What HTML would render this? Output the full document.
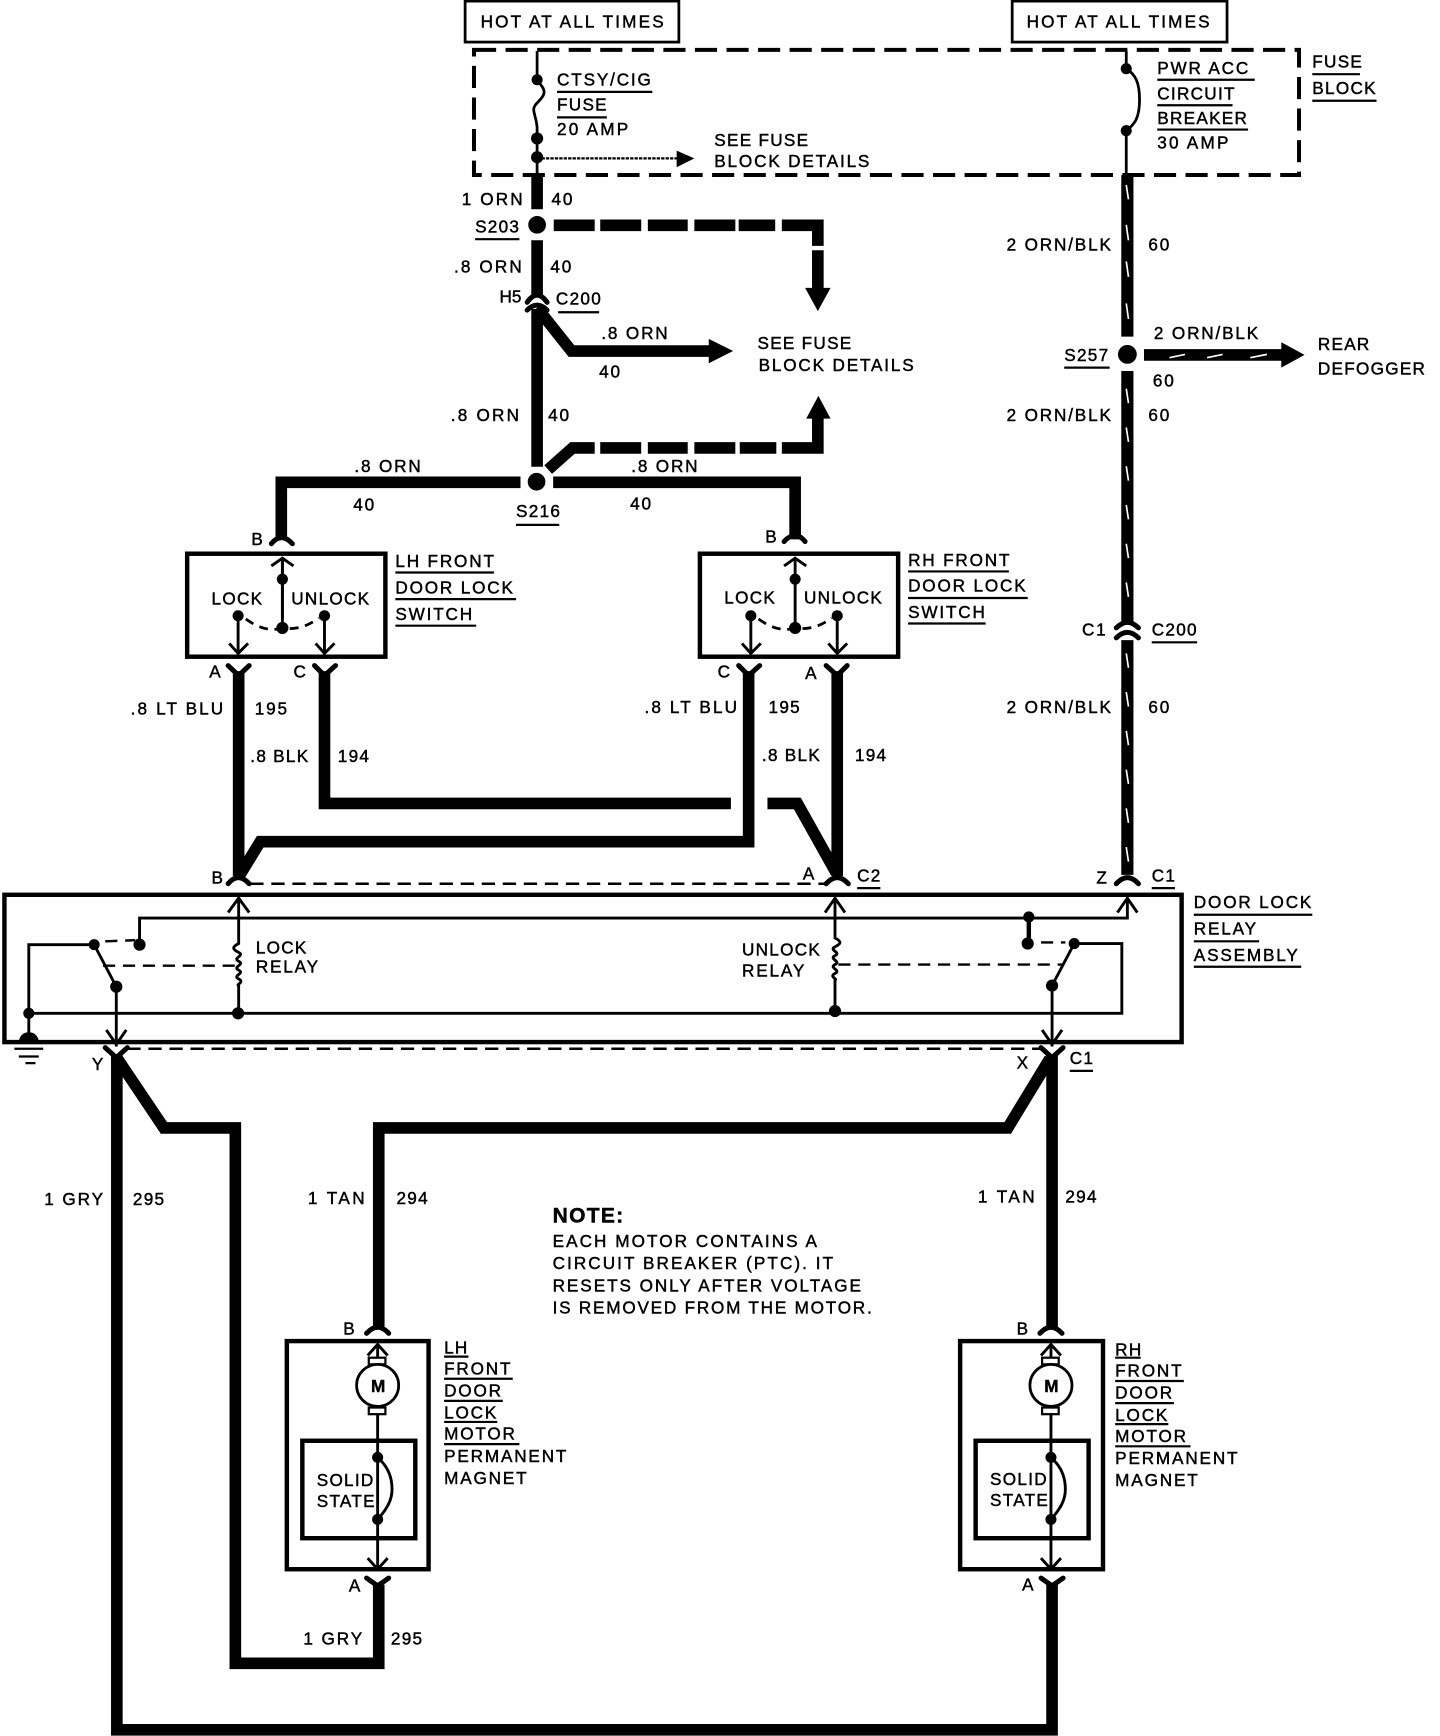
<!DOCTYPE html>
<html><head><meta charset="utf-8"><title>Door Lock Wiring Diagram</title>
<style>
html,body{margin:0;padding:0;background:#fff}
svg{display:block}
text{font-family:"Liberation Sans",Arial,sans-serif;font-size:15.5px;letter-spacing:1.65px;fill:#000;stroke:#000;stroke-width:.4px}
text.n{letter-spacing:1.15px}
.w{fill:none;stroke:#000;stroke-width:10.5;stroke-linejoin:miter}
.t{fill:none;stroke:#000;stroke-width:2.5}
.b{fill:none;stroke:#000;stroke-width:4}
.u{stroke:#000;stroke-width:2}
.f{fill:none;stroke:#000;stroke-width:4.5;stroke-linecap:round;stroke-linejoin:round}
.i{fill:none;stroke:#000;stroke-width:2.6}
.d{fill:none;stroke:#000;stroke-width:2.2;stroke-dasharray:12 7}
.s{fill:none;stroke:#fff;stroke-width:1.5}
</style></head><body>
<svg width="1440" height="1736" viewBox="0 0 1300.3 1567.6" xmlns="http://www.w3.org/2000/svg">
<rect width="1301" height="1568" fill="#fff"/>
<!-- top boxes -->
<rect x="420" y="1" width="193" height="37" class="t"/>
<rect x="914" y="1" width="194" height="37" class="t"/>
<rect x="428" y="45" width="745" height="113" fill="none" stroke="#000" stroke-width="3.6" stroke-dasharray="20 8.500"/>
<!-- left fuse -->
<path class="t" d="M485 46V70c0 5 8 9 6 15-2 6-10 9-9 15 1 6 3 10 3 16V158" stroke-width="3"/>
<circle cx="485" cy="72" r="5"/><circle cx="485" cy="125" r="5.5"/><circle cx="485" cy="142" r="5.5"/>
<path d="M485 143H612" fill="none" stroke="#000" stroke-width="2" stroke-dasharray="3 1"/>
<path d="M611 136L627 143L611 151Z"/>
<path class="w" d="M485 158V189M485 217V268"/>
<circle cx="485" cy="203" r="8"/>
<path class="w" d="M500 203.500H537M542 203.500H579M585 203.500H621M627 203.500H664M667 203.500H700M706 203.500H738.500V222M738.500 226V262"/>
<path d="M727 260H750L738.500 281Z"/>
<!-- C200 left -->
<path class="f" d="M476 273Q485 260 494 273"/>
<path class="f" d="M476 280Q485 271 494 280" stroke-width="5"/>
<path class="w" d="M485 279V421.500"/>
<path class="w" d="M485 278L516 317H642"/>
<path d="M640 306L662 317L640 328Z"/>
<path class="w" d="M495 424L517 404.500H537M542 404.500H579M585 404.500H621M627 404.500H664M668 404.500H701M706 404.500H738.500V376"/>
<path d="M728 378H750L739 357.500Z"/>
<circle cx="484.500" cy="435" r="8"/>
<path class="w" d="M470 435.500H254V487"/>
<path class="w" d="M499.500 435.500H718V487"/>
<!-- right breaker wire -->
<path class="t" d="M1017 46V62c8 5 12 12 12 28s-4 22-12 28V158" stroke-width="3"/>
<circle cx="1017" cy="62" r="5"/><circle cx="1017" cy="118" r="5"/>
<path class="w" d="M1018 158V304M1018 335V562M1018 578V790" style="stroke-width:11"/>
<path class="s" d="M1017 167l2 13M1017 203l2 14M1017 236l2 14M1017 274l2 14M1017 351l2 13M1017 386l2 13M1017 421l2 13M1017 456l2 13M1017 491l2 13M1017 526l2 13M1017 590l2 13M1017 625l2 13M1017 660l2 13M1017 695l2 13M1017 730l2 13M1017 765l2 13"/>
<circle cx="1018" cy="320" r="8.500"/>
<path class="w" d="M1033 320.500H1160"/>
<path class="s" d="M1056 323l14-3M1090 323l14-3M1129 323l15-3"/>
<path d="M1157 309L1178 320.500L1157 332Z"/>
<path class="f" d="M1008 567Q1018 557 1028 567"/>
<path class="f" d="M1008 576Q1018 566 1028 576"/>
<!-- switches -->
<rect x="169" y="500" width="179" height="93" class="b"/>
<rect x="632" y="500" width="179" height="93" class="b"/>
<!-- LH switch inner -->
<path class="f" d="M245 491Q254 480 264 491"/>
<path class="i" d="M245 511L255 504L265 511M255 504V567"/>
<path class="i" d="M255 505V558" stroke-width="3"/>
<circle cx="255" cy="523" r="5"/><circle cx="255" cy="567" r="5.500"/>
<path class="i" d="M215 556V590M207 581L215 590L224 581"/>
<path class="i" d="M293 556V590M285 581L293 590L302 581"/>
<circle cx="215" cy="556" r="5"/><circle cx="293" cy="556" r="5"/>
<path fill="none" stroke="#000" stroke-width="2.5" stroke-dasharray="8 6" d="M222 559Q240 572 255 567Q272 570 288 558"/>
<!-- RH switch inner -->
<path class="f" d="M708 489Q718 478 727 489"/>
<path class="i" d="M708 511L718 504L728 511M718 504V567"/>
<circle cx="718" cy="523" r="5"/><circle cx="718" cy="567" r="5.500"/>
<path class="i" d="M678 556V590M670 581L678 590L687 581"/>
<path class="i" d="M756 556V590M748 581L756 590L765 581"/>
<circle cx="678" cy="556" r="5"/><circle cx="756" cy="556" r="5"/>
<path fill="none" stroke="#000" stroke-width="2.5" stroke-dasharray="8 6" d="M685 559Q703 572 718 567Q735 570 751 558"/>
<!-- switch to relay wires -->
<path class="f" d="M206 601L215.500 610L225 601M284 601L293 610L303 601M667 601L676 610L686 601M746 601L756 610L765 601"/>
<path class="w" d="M215.500 606V791"/>
<path class="w" d="M293 606V725.500H660"/>
<path class="w" d="M676 606V760H235L216 791"/>
<path class="w" d="M756 606V791"/>
<path class="w" d="M693 725.500H720L755 788"/>
<path class="f" d="M206 798Q215 787 225 798M746 798Q756 787 766 798M1008 798Q1018 787 1028 798"/>
<path class="d" d="M226 798H745"/>
<!-- relay box -->
<rect x="4" y="808" width="1063" height="133" class="b"/>
<!-- relay inner -->
<path class="i" d="M206 824L215.500 811L225 824M215.500 811V852c-6 3-6 5 0 8s-6 5 0 8-6 5 0 8-6 5 0 8-3 5 0 6V915" stroke-width="3"/>
<path class="i" d="M745 824L754 811L763 824M754 811V847c6 3 6 5 0 8s6 5 0 8 6 5 0 8 6 5 0 8 3 5 0 6V913" stroke-width="3"/>
<path class="i" d="M25 915H1013V852H970"/>
<path class="i" d="M26 915V853H85"/>
<path class="i" d="M26 915V935"/>
<path class="i" d="M126 853V829H1018V811M1009 824L1018 811L1027 824"/>
<path class="i" d="M85 853L105 891V945M96 930L105 943L114 930" stroke-width="3"/>
<path class="i" d="M970 852L950 890V945M941 930L950 943L959 930" stroke-width="3"/>
<path class="w" style="stroke-width:4" d="M929 828V852"/>
<circle cx="85" cy="853" r="5"/><circle cx="126" cy="853" r="5.500"/><circle cx="105" cy="891" r="5.500"/>
<circle cx="26" cy="915" r="5"/><circle cx="215" cy="915" r="5.500"/><circle cx="754" cy="913" r="5.500"/>
<circle cx="929" cy="828" r="5"/><circle cx="928" cy="852" r="5.500"/><circle cx="970" cy="852" r="5"/><circle cx="950" cy="890" r="5.500"/>
<path fill="none" stroke="#000" stroke-width="2.200" stroke-dasharray="11 7" d="M93 872H213M757 871H960M95 850L122 849M940 851H962"/>
<!-- ground -->
<path d="M17 941a9 9 0 0 1 18 0Z"/>
<path class="u" d="M13 947H39M17 954H35M23 960H32"/>
<path class="d" d="M115 947H940"/>
<!-- lower wires -->
<path class="f" d="M95 946L105 955L115 946M940 946L950 955L960 946"/>
<path class="w" d="M105.500 953V1562H950V1431"/>
<path class="w" d="M106 956L148 1018.500H212.500V1502H342V1431"/>
<path class="w" d="M950 953V1198"/>
<path class="w" d="M948 956L910 1018.500H342V1198"/>
<!-- LH motor -->
<rect x="259" y="1211" width="128" height="206" class="b"/>
<path class="f" d="M331 1204Q341 1193 351 1204"/>
<path class="i" d="M332 1224L341 1214L350 1224M341 1214V1227M341 1277V1417M332 1407L341 1417L350 1407"/>
<path class="f" d="M331 1425L341 1432L351 1425"/>
<rect x="333" y="1226" width="15" height="6" fill="#fff" stroke="#000" stroke-width="2"/>
<rect x="333" y="1271" width="15" height="6" fill="#fff" stroke="#000" stroke-width="2"/>
<circle cx="341" cy="1251" r="19" fill="#fff" stroke="#000" stroke-width="2.500"/>
<rect x="273" y="1301" width="102" height="88" class="b"/>
<path class="i" d="M341 1316C352 1326 354 1336 354 1345S350 1362 341 1372" stroke-width="3"/>
<circle cx="341" cy="1316" r="5"/><circle cx="341" cy="1372" r="5"/>
<!-- RH motor -->
<rect x="867" y="1211" width="129" height="206" class="b"/>
<path class="f" d="M939 1204Q949 1193 959 1204"/>
<path class="i" d="M940 1224L949 1214L958 1224M949 1214V1227M949 1277V1417M940 1407L949 1417L958 1407"/>
<path class="f" d="M940 1425L950 1432L960 1425"/>
<rect x="941" y="1226" width="15" height="6" fill="#fff" stroke="#000" stroke-width="2"/>
<rect x="941" y="1271" width="15" height="6" fill="#fff" stroke="#000" stroke-width="2"/>
<circle cx="949" cy="1251" r="19" fill="#fff" stroke="#000" stroke-width="2.500"/>
<rect x="881" y="1301" width="102" height="88" class="b"/>
<path class="i" d="M949 1316C960 1326 962 1336 962 1345S958 1362 949 1372" stroke-width="3"/>
<circle cx="949" cy="1316" r="5"/><circle cx="949" cy="1372" r="5"/>
<!-- underlines -->
<path class="u" d="M503 83H589M503 106H548M429 216H469M504 282H541M1045 72H1133M1045 95H1113M1045 117H1127M1185 67H1228M1185 91H1243M961 332H1002M466 474H505M357 517H446M357 541H466M357 565H430M820 516H911M820 540H928M820 563H890M1040 580H1081M774 802H795M1040 802H1061M1078 826H1185M1078 850H1137M1078 873H1175M966 967H987M401 1225H423M401 1245H463M401 1265H454M401 1284H449M401 1304H469M1007 1226H1030M1007 1247H1069M1007 1267H1060M1007 1286H1055M1007 1306H1075"/>
<!-- labels -->
<text x="434" y="25" style="letter-spacing:1.95px">HOT AT ALL TIMES</text>
<text x="927" y="25" style="letter-spacing:1.95px">HOT AT ALL TIMES</text>
<text x="503" y="77">CTSY/CIG</text><text x="503" y="100" class="n">FUSE</text><text x="503" y="122" style="letter-spacing:2px">20 AMP</text>
<text x="645" y="132" class="n">SEE FUSE</text><text x="645" y="151">BLOCK DETAILS</text>
<text x="1045" y="67">PWR ACC</text><text x="1045" y="90" class="n">CIRCUIT</text><text x="1045" y="112" class="n">BREAKER</text><text x="1045" y="134" style="letter-spacing:2px">30 AMP</text>
<text x="1185" y="61" class="n">FUSE</text><text x="1185" y="85" class="n">BLOCK</text>
<text x="417" y="185" style="letter-spacing:1.9px">1 ORN</text><text x="498" y="185">40</text>
<text x="429" y="210" class="n">S203</text>
<text x="410" y="246" style="letter-spacing:1.9px">.8 ORN</text><text x="497" y="246">40</text>
<text x="451" y="273" style="letter-spacing:0">H5</text><text x="502" y="275" class="n">C200</text>
<text x="543" y="306">.8 ORN</text><text x="541" y="341">40</text>
<text x="684" y="315" class="n">SEE FUSE</text><text x="685" y="335">BLOCK DETAILS</text>
<text x="909" y="226">2 ORN/BLK</text><text x="1037" y="226">60</text>
<text x="961" y="326" class="n">S257</text>
<text x="1042" y="306">2 ORN/BLK</text><text x="1041" y="349">60</text>
<text x="1190" y="316" class="n">REAR</text><text x="1190" y="338" class="n">DEFOGGER</text>
<text x="909" y="380">2 ORN/BLK</text><text x="1037" y="380">60</text>
<text x="407" y="380" style="letter-spacing:2px">.8 ORN</text><text x="495" y="380">40</text>
<text x="320" y="426">.8 ORN</text><text x="319" y="461">40</text>
<text x="466" y="467" class="n">S216</text>
<text x="570" y="426">.8 ORN</text><text x="569" y="460">40</text>
<text x="227" y="492">B</text><text x="691" y="490">B</text>
<text x="191" y="546" class="n">LOCK</text><text x="263" y="546" class="n">UNLOCK</text>
<text x="654" y="545" class="n">LOCK</text><text x="726" y="545" class="n">UNLOCK</text>
<text x="357" y="512">LH FRONT</text><text x="357" y="536">DOOR LOCK</text><text x="357" y="560">SWITCH</text>
<text x="820" y="511">RH FRONT</text><text x="820" y="534">DOOR LOCK</text><text x="820" y="558">SWITCH</text>
<text x="189" y="612">A</text><text x="265" y="612">C</text><text x="648" y="612">C</text><text x="727" y="613">A</text>
<text x="118" y="645" style="letter-spacing:1.9px">.8 LT BLU</text><text x="230" y="645">195</text>
<text x="582" y="644" style="letter-spacing:1.9px">.8 LT BLU</text><text x="694" y="644" class="n">195</text>
<text x="226" y="688" class="n">.8 BLK</text><text x="305" y="688" class="n">194</text>
<text x="688" y="687" class="n">.8 BLK</text><text x="772" y="687" class="n">194</text>
<text x="977" y="574">C1</text><text x="1040" y="574" class="n">C200</text>
<text x="909" y="644">2 ORN/BLK</text><text x="1037" y="644">60</text>
<text x="191" y="798">B</text><text x="725" y="794">A</text><text x="774" y="796" class="n">C2</text>
<text x="990" y="798">Z</text><text x="1040" y="796" class="n">C1</text>
<text x="1078" y="820">DOOR LOCK</text><text x="1078" y="844">RELAY</text><text x="1078" y="868">ASSEMBLY</text>
<text x="231" y="861" class="n">LOCK</text><text x="231" y="878">RELAY</text>
<text x="670" y="863" class="n">UNLOCK</text><text x="670" y="882">RELAY</text>
<text x="83" y="966">Y</text><text x="918" y="965">X</text><text x="966" y="961" class="n">C1</text>
<text x="40" y="1088" style="letter-spacing:1.7px">1 GRY</text><text x="120" y="1088" class="n">295</text>
<text x="278" y="1087" style="letter-spacing:2.2px">1 TAN</text><text x="358" y="1087" class="n">294</text>
<text x="883" y="1086" style="letter-spacing:2.2px">1 TAN</text><text x="962" y="1086" class="n">294</text>
<text x="499" y="1104" style="font-size:19px;font-weight:bold;letter-spacing:1.15px">NOTE:</text>
<text x="499" y="1126" style="letter-spacing:1.85px">EACH MOTOR CONTAINS A</text>
<text x="499" y="1146" style="letter-spacing:1.85px">CIRCUIT BREAKER (PTC). IT</text>
<text x="499" y="1166" style="letter-spacing:1.75px">RESETS ONLY AFTER VOLTAGE</text>
<text x="499" y="1186" style="letter-spacing:1.6px">IS REMOVED FROM THE MOTOR.</text>
<text x="310" y="1205">B</text><text x="918" y="1205">B</text>
<text x="315" y="1437">A</text><text x="923" y="1436">A</text>
<text x="274" y="1485" style="letter-spacing:1.7px">1 GRY</text><text x="353" y="1485" class="n">295</text>
<text x="335" y="1257" style="font-weight:bold;letter-spacing:0">M</text>
<text x="943" y="1257" style="font-weight:bold;letter-spacing:0">M</text>
<text x="286" y="1342" class="n">SOLID</text><text x="286" y="1361" class="n">STATE</text>
<text x="894" y="1341" class="n">SOLID</text><text x="894" y="1360" class="n">STATE</text>
<text x="401" y="1222" class="n">LH</text><text x="401" y="1241">FRONT</text><text x="401" y="1261">DOOR</text><text x="401" y="1281">LOCK</text><text x="401" y="1300">MOTOR</text><text x="401" y="1320">PERMANENT</text><text x="401" y="1340">MAGNET</text>
<text x="1007" y="1224" class="n">RH</text><text x="1007" y="1243">FRONT</text><text x="1007" y="1263">DOOR</text><text x="1007" y="1283">LOCK</text><text x="1007" y="1302">MOTOR</text><text x="1007" y="1322">PERMANENT</text><text x="1007" y="1342">MAGNET</text>
</svg>
</body></html>
